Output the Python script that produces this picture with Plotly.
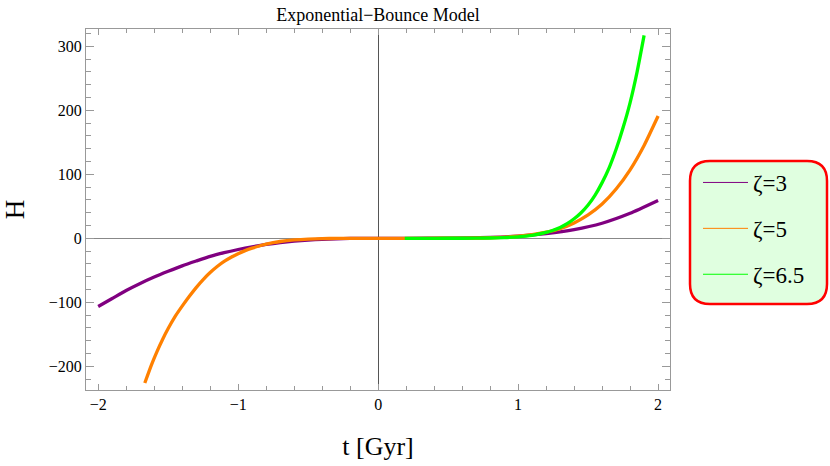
import plotly.graph_objects as go

# ---- data ----
t_z3 = [-2.0, -1.9, -1.8, -1.7, -1.6, -1.5, -1.4, -1.3, -1.2, -1.1, -1.0, -0.9, -0.8, -0.7, -0.6, -0.5,
        -0.4, -0.3, -0.2, -0.1, 0.0, 0.2, 0.5, 0.8, 1.0, 1.2, 1.4, 1.6, 1.8, 2.0]
H_z3 = [-106.5, -94.0, -81.5, -70.5, -60.5, -51.5, -43.0, -35.5, -28.3, -22.5, -17.5, -13.2, -9.6, -6.7,
        -4.4, -2.8, -1.5, -0.7, -0.25, -0.05, 0.0, 0.02, 0.3, 1.4, 3.5, 7.4, 13.5, 23.5, 39.0, 59.0]

t_z5 = [-1.667, -1.62, -1.58, -1.54, -1.5, -1.45, -1.4, -1.35, -1.3, -1.25, -1.2, -1.15, -1.1, -1.05, -1.0,
        -0.95, -0.9, -0.85, -0.8, -0.75, -0.7, -0.6, -0.5, -0.4, -0.3, -0.2, 0.0,
        0.3, 0.6, 0.8, 1.0, 1.1, 1.2, 1.3, 1.4, 1.5, 1.6, 1.7, 1.8, 1.9, 2.0]
H_z5 = [-226.0, -198.0, -177.0, -158.0, -141.0, -122.0, -106.0, -91.0, -77.0, -64.5, -53.5, -44.0, -36.0,
        -29.5, -24.0, -19.3, -15.4, -12.0, -9.2, -6.9, -5.0, -2.6, -1.2, -0.5, -0.15, -0.03, 0.0,
        0.02, 0.25, 0.9, 3.2, 5.6, 9.5, 15.0, 24.0, 36.5, 53.5, 77.0, 107.0, 145.0, 191.0]

t_z65 = [0.19, 0.4, 0.6, 0.8, 0.9, 1.0, 1.1, 1.2, 1.25, 1.3, 1.35, 1.4, 1.45, 1.5, 1.55, 1.6, 1.65, 1.7,
         1.75, 1.8, 1.85, 1.9]
H_z65 = [0.0, 0.02, 0.1, 0.5, 1.2, 2.4, 4.7, 9.2, 12.6, 17.0, 22.8, 30.5, 40.0, 52.0, 67.5, 87.0, 110.0,
         139.0, 173.0, 212.0, 260.0, 317.0]

series_names = ["ζ=3", "ζ=5", "ζ=6.5"]
series_colors = ["#800080", "#FF8000", "#00FF00"]

x_ticks = [-2, -1, 0, 1, 2]
x_tick_text = ["\u22122", "\u22121", "0", "1", "2"]
y_ticks = [-200, -100, 0, 100, 200, 300]
y_tick_text = ["\u2212200", "\u2212100", "0", "100", "200", "300"]

FONT = "Liberation Serif, Times New Roman, serif"

fig = go.Figure()
for tt, hh, col in zip([t_z3, t_z5, t_z65], [H_z3, H_z5, H_z65], series_colors):
    fig.add_trace(go.Scatter(x=tt, y=hh, mode="lines", showlegend=False,
                             line=dict(color=col, width=3.3, shape="spline", smoothing=0.5)))

# thin legend samples (legend only)
for i, (name, col) in enumerate(zip(series_names, series_colors)):
    fig.add_trace(go.Scatter(x=[None], y=[None], mode="lines", name=name,
                             legendgroup=f"g{i}", line=dict(color=col, width=1)))

# plot area: left 86, right 670, top 29, bottom 390 (px)
L, R, T, B = 86, 670, 29, 390
W, Hh = 830, 466
pw, ph = R - L, B - T

def px(x):
    return (x - L) / pw

def py(y):
    return (B - y) / ph

# rounded legend frame
x0, x1, y0, y1 = px(690), px(827), py(161), py(304)
rx, ry = 20 / pw, 20 / ph
path = (f"M {x0+rx},{y0} L {x1-rx},{y0} Q {x1},{y0} {x1},{y0-ry} "
        f"L {x1},{y1+ry} Q {x1},{y1} {x1-rx},{y1} L {x0+rx},{y1} "
        f"Q {x0},{y1} {x0},{y1+ry} L {x0},{y0-ry} Q {x0},{y0} {x0+rx},{y0} Z")
fig.add_shape(type="path", path=path, xref="paper", yref="paper",
              line=dict(color="#FF0000", width=2.5), fillcolor="#E0FFE0", layer="below")

axis_common = dict(showline=True, linecolor="#999999", linewidth=1, mirror="ticks",
                   ticks="inside", tickcolor="#999999", showgrid=False,
                   zeroline=True, zerolinewidth=1,
                   tickfont=dict(family=FONT, size=16, color="black"))

fig.update_xaxes(range=[-2.087, 2.085], tickvals=x_ticks, ticktext=x_tick_text, ticklen=6,
                 zerolinecolor="#555555",
                 minor=dict(dtick=0.2, ticklen=4, tickcolor="#999999", ticks="inside", showgrid=False),
                 title=dict(text="t [Gyr]", font=dict(family=FONT, size=26, color="black"), standoff=24),
                 **axis_common)
fig.update_yaxes(range=[-237, 327], tickvals=y_ticks, ticktext=y_tick_text, ticklen=8,
                 zerolinecolor="#888888",
                 minor=dict(dtick=20, ticklen=5, tickcolor="#999999", ticks="inside", showgrid=False),
                 title=dict(text="H", font=dict(family=FONT, size=27, color="black"), standoff=20),
                 **axis_common)

fig.update_layout(
    width=W, height=Hh,
    margin=dict(l=L, r=W - R, t=T, b=Hh - B, autoexpand=False),
    paper_bgcolor="white", plot_bgcolor="white",
    title=dict(text="Exponential\u2212Bounce Model", x=0.5, xref="paper",
               y=1 - 15 / Hh, yref="container", yanchor="middle",
               font=dict(family=FONT, size=18, color="black")),
    legend=dict(x=px(698), y=py(161), xanchor="left", yanchor="top",
                bgcolor="rgba(0,0,0,0)", borderwidth=0, tracegroupgap=13, itemwidth=45,
                font=dict(family=FONT, size=23, color="black")),
    showlegend=True,
)

fig.write_html("out.html", config={"displayModeBar": False},
               post_script="document.body.style.margin='0';")
